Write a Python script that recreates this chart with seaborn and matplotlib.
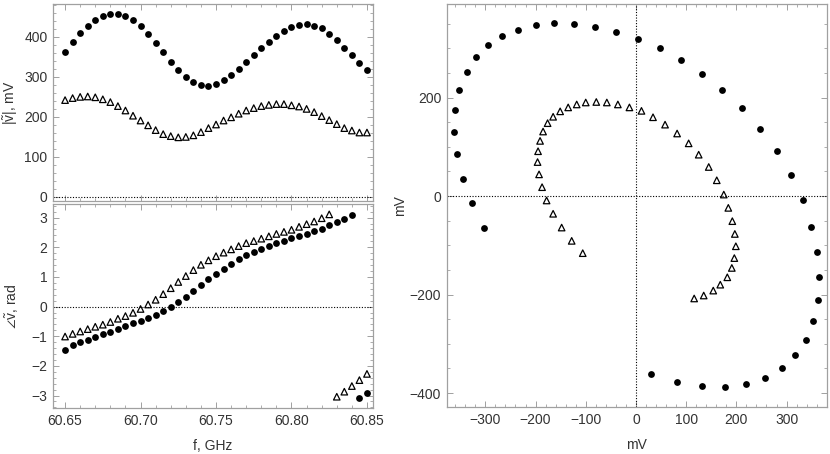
import numpy as np
import pandas as pd
import matplotlib
matplotlib.use("Agg")
import matplotlib.pyplot as plt
import seaborn as sns
from matplotlib.ticker import MultipleLocator, FormatStrFormatter

# ---------------- data ----------------
freq_ghz = [60.650, 60.655, 60.660, 60.665, 60.670, 60.675, 60.680, 60.685, 60.690, 60.695,
            60.700, 60.705, 60.710, 60.715, 60.720, 60.725, 60.730, 60.735, 60.740, 60.745,
            60.750, 60.755, 60.760, 60.765, 60.770, 60.775, 60.780, 60.785, 60.790, 60.795,
            60.800, 60.805, 60.810, 60.815, 60.820, 60.825, 60.830, 60.835, 60.840, 60.845,
            60.850]

mag_dots = [363, 387, 409, 428, 442, 453, 458, 457, 452, 441,
            426, 407, 384, 362, 338, 317, 299, 286, 279, 277,
            282, 291, 304, 319, 337, 354, 372, 388, 403, 415,
            425, 429, 431, 427, 421, 407, 392, 373, 354, 334,
            316]
mag_tri = [242, 247, 250, 251, 249, 244, 237, 227, 216, 203,
           191, 179, 167, 157, 152, 149, 150, 154, 162, 172,
           181, 191, 199, 208, 216, 222, 227, 230, 232, 232,
           229, 226, 220, 212, 202, 192, 182, 172, 166, 161,
           161]
phase_dots = [-1.46, -1.31, -1.20, -1.11, -1.02, -0.93, -0.84, -0.75, -0.66, -0.57,
              -0.48, -0.38, -0.27, -0.145, 0.00, 0.16, 0.34, 0.54, 0.72, 0.92,
              1.11, 1.28, 1.45, 1.60, 1.73, 1.84, 1.95, 2.06, 2.14, 2.21,
              2.30, 2.38, 2.46, 2.54, 2.63, 2.74, 2.84, 2.96, 3.08, -3.07,
              -2.90]
phase_tri = [-1.01, -0.92, -0.84, -0.76, -0.68, -0.61, -0.52, -0.41, -0.32, -0.21,
             -0.08, 0.07, 0.23, 0.42, 0.62, 0.83, 1.03, 1.23, 1.41, 1.56,
             1.70, 1.82, 1.93, 2.04, 2.14, 2.21, 2.29, 2.37, 2.45, 2.52,
             2.59, 2.69, 2.78, 2.87, 2.98, 3.11, -3.04, -2.87, -2.68, -2.48,
             -2.27]

# complex plane (right panel), mV
re_dots = [30, 82, 131, 177, 219, 257, 290, 317, 339, 353,
           363, 365, 361, 349, 332, 309, 280, 248, 211, 172,
           131, 90, 48, 5, -39, -82, -123, -163, -200, -235,
           -266, -295, -318, -337, -352, -360, -362, -356, -345, -327,
           -302]
im_dots = [-362, -378, -386, -388, -382, -370, -350, -323, -292, -254,
           -211, -164, -114, -62, -9, 42, 91, 137, 178, 216,
           248, 276, 300, 319, 334, 344, 350, 351, 347, 338,
           325, 306, 282, 251, 215, 175, 131, 85, 34, -15,
           -64]
re_tri = [116, 135, 154, 168, 182, 191, 196, 199, 197, 192,
          184, 175, 161, 145, 125, 105, 82, 58, 34, 11,
          -13, -36, -58, -79, -100, -118, -135, -151, -165, -176,
          -185, -191, -195, -196, -193, -187, -178, -165, -148, -128,
          -106]
im_tri = [-208, -202, -192, -180, -165, -146, -126, -102, -77, -51,
          -24, 3, 32, 59, 84, 107, 127, 145, 160, 173,
          180, 186, 190, 191, 190, 186, 180, 172, 161, 148,
          131, 112, 91, 69, 44, 18, -9, -36, -64, -91,
          -116]

dots = pd.DataFrame({"f": freq_ghz, "mag": mag_dots, "phase": phase_dots,
                     "re": re_dots, "im": im_dots})
tri = pd.DataFrame({"f": freq_ghz, "mag": mag_tri, "phase": phase_tri,
                    "re": re_tri, "im": im_tri})

# ---------------- style ----------------
sns.set_style("ticks")
plt.rcParams["font.family"] = ["Liberation Sans", "DejaVu Sans"]
plt.rcParams["mathtext.fontset"] = "custom"
plt.rcParams["mathtext.rm"] = "Liberation Sans"
plt.rcParams["mathtext.it"] = "Liberation Sans:italic"
plt.rcParams["font.size"] = 10

FRAME = "#a0a0a0"
TXT = "#333333"
FS = 10

fig = plt.figure(figsize=(8.30, 4.54), dpi=100)
ax1 = fig.add_axes([53 / 830, 1 - 201 / 454, 320 / 830, 197 / 454])
ax2 = fig.add_axes([53 / 830, 1 - 408 / 454, 320 / 830, 204 / 454])
ax3 = fig.add_axes([446.7 / 830, 1 - 407.3 / 454, 380 / 830, 403.3 / 454])

dot_kw = dict(marker="o", s=24, color="black", edgecolor="black", linewidth=0, legend=False, zorder=3)
tri_kw = dict(marker="^", s=22, facecolor="none", edgecolor="black", linewidth=0.9, legend=False, zorder=3)

sns.scatterplot(data=dots, x="f", y="mag", ax=ax1, **dot_kw)
sns.scatterplot(data=tri, x="f", y="mag", ax=ax1, **tri_kw)
sns.scatterplot(data=dots, x="f", y="phase", ax=ax2, **dot_kw)
sns.scatterplot(data=tri, x="f", y="phase", ax=ax2, **tri_kw)
sns.scatterplot(data=dots, x="re", y="im", ax=ax3, **dot_kw)
sns.scatterplot(data=tri, x="re", y="im", ax=ax3, **tri_kw)

dotted = dict(color="black", ls=(0, (1, 1.5)), lw=0.8, zorder=1)
ax1.axhline(0, **dotted)
ax2.axhline(0, **dotted)
ax3.axhline(0, **dotted)
ax3.axvline(0, **dotted)

ax1.set_xlim(60.642, 60.854)
ax2.set_xlim(60.642, 60.854)
ax1.set_ylim(-10, 482)
ax2.set_ylim(-3.42, 3.46)
ax3.set_xlim(-377, 380)
ax3.set_ylim(-429, 390)

ax1.xaxis.set_major_locator(MultipleLocator(0.05))
ax1.xaxis.set_minor_locator(MultipleLocator(0.01))
ax2.xaxis.set_major_locator(MultipleLocator(0.05))
ax2.xaxis.set_minor_locator(MultipleLocator(0.01))
ax2.xaxis.set_major_formatter(FormatStrFormatter("%.2f"))
ax1.yaxis.set_major_locator(MultipleLocator(100))
ax1.yaxis.set_minor_locator(MultipleLocator(20))
ax2.yaxis.set_major_locator(MultipleLocator(1))
ax2.yaxis.set_minor_locator(MultipleLocator(0.2))
ax3.xaxis.set_major_locator(MultipleLocator(100))
ax3.xaxis.set_minor_locator(MultipleLocator(20))
ax3.yaxis.set_major_locator(MultipleLocator(200))
ax3.yaxis.set_minor_locator(MultipleLocator(50))
ax1.tick_params(axis="x", labelbottom=False)

for ax in (ax1, ax2, ax3):
    for sp in ax.spines.values():
        sp.set_visible(True)
        sp.set_color(FRAME)
        sp.set_linewidth(0.9)
    ax.tick_params(which="both", direction="in", top=True, right=True,
                   color=FRAME, labelcolor=TXT, labelsize=FS, pad=4)
    ax.tick_params(which="major", length=4, width=0.7)
    ax.tick_params(which="minor", length=2, width=0.6)
    ax.set_xlabel("")
    ax.set_ylabel("")

ax1.set_ylabel(r"|$\tilde{\mathrm{v}}$|, mV", color=TXT, fontsize=FS)
ax2.set_ylabel(r"$\angle\tilde{\mathrm{v}}$, rad", color=TXT, fontsize=FS)
ax2.set_xlabel("f, GHz", color=TXT, fontsize=FS, labelpad=8)
ax3.set_xlabel("mV", color=TXT, fontsize=FS, labelpad=8)
ax3.set_ylabel("mV", color=TXT, fontsize=FS)
ax1.yaxis.set_label_coords(-0.102, 0.5)
ax2.yaxis.set_label_coords(-0.100, 0.5)
ax3.yaxis.set_label_coords(-0.104, 0.5)

fig.savefig("out.png", dpi=100)
